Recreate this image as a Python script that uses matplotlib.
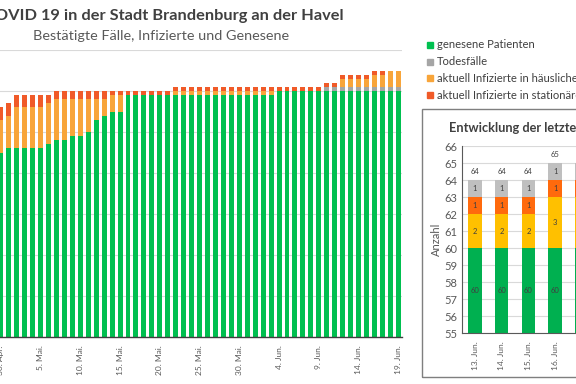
import matplotlib
matplotlib.use("Agg")
import matplotlib.pyplot as plt
import numpy as np
import pandas as pd
from matplotlib.patches import Rectangle

plt.rcParams['font.family'] = ['Lato', 'DejaVu Sans']

# daily values 30 Apr - 19 Jun
days = pd.date_range('2020-04-30', '2020-06-19')
genesen = [45, 46, 46, 46, 46, 46, 47, 48, 48, 49, 49, 50, 53, 54, 55, 55,
           59, 59, 59, 59, 59, 59,
           59, 59, 59, 59, 59, 59, 59, 59, 59, 59, 59, 59, 59,
           60, 60, 60, 60, 60, 60, 60, 60, 60, 60, 60, 60, 60, 60, 60, 60]
tote = [0, 0, 0, 0, 0, 0, 0, 0, 0, 0, 0, 0, 0, 0, 0, 0,
        0, 0, 0, 0, 0, 0,
        0, 0, 0, 0, 0, 0, 0, 0, 0, 0, 0, 0, 0,
        0, 0, 0, 0, 0, 0, 1, 1, 1, 1, 1, 1, 1, 1, 1, 1]
haeuslich = [8, 8, 10, 10, 10, 10, 10, 10, 10, 9, 9, 8, 5, 4, 4, 4,
             0, 0, 0, 0, 0, 0,
             1, 1, 1, 1, 1, 1, 1, 1, 1, 1, 1, 1, 1,
             0, 0, 0, 0, 0, 0, 0, 0, 2, 2, 2, 2, 3, 3, 4, 4]
stationaer = [3, 3, 3, 3, 3, 3, 2, 2, 2, 2, 2, 2, 2, 2, 1, 1,
              1, 1, 1, 1, 1, 1,
              1, 1, 1, 1, 1, 1, 1, 1, 1, 1, 1, 1, 1,
              1, 1, 1, 1, 1, 1, 1, 1, 1, 1, 1, 1, 1, 1, 0, 0]

# last 7 days (inset)
tage7 = ['13. Jun.', '14. Jun.', '15. Jun.', '16. Jun.', '17. Jun.', '18. Jun.', '19. Jun.']
gen7 = [60, 60, 60, 60, 60, 60, 60]
haus7 = [2, 2, 2, 3, 3, 4, 4]
stat7 = [1, 1, 1, 1, 1, 0, 0]
tot7 = [1, 1, 1, 1, 1, 1, 1]

W, H = 576, 384


def fx(px):
    return px / W


def fy(py):
    return 1 - py / H


fig = plt.figure(figsize=(W / 100, H / 100), dpi=100)

# ---- main chart ----
ax = fig.add_axes([fx(0), fy(337), fx(401.7), fy(50) - fy(337)])
x = np.arange(len(days))
g = np.array(genesen)
t = np.array(tote)
h = np.array(haeuslich)
s = np.array(stationaer)
bw = 0.62
ax.bar(x, g, bw, color='#00C050', zorder=2)
ax.bar(x, t, bw, bottom=g, color='#A5A5A5', zorder=2)
ax.bar(x, h, bw, bottom=g + t, color='#F8A53A', zorder=2)
ax.bar(x, s, bw, bottom=g + t + h, color='#F05A28', zorder=2)
ax.set_xlim(-0.1, 50.43)
ax.set_ylim(0, 70)
ax.set_yticks(range(0, 71, 10))
ax.yaxis.grid(True, color='#D9D9D9', lw=0.8, zorder=0)
ax.tick_params(axis='y', left=False, labelleft=False)
ax.tick_params(axis='x', length=0, pad=6, labelsize=6, labelcolor='#595959')
ticks = x[::5]
ax.set_xticks(ticks)
ax.set_xticklabels([f"{d.day}. {'Apr.' if d.month == 4 else 'Mai.' if d.month == 5 else 'Jun.'}"
                    for d in days[::5]], rotation=90)
for sp in ['left', 'right', 'top']:
    ax.spines[sp].set_visible(False)
ax.spines['bottom'].set_color('#404040')
ax.spines['bottom'].set_linewidth(1)

fig.text(fx(164), fy(16), 'COVID 19 in der Stadt Brandenburg an der Havel', ha='center', va='center',
         fontsize=11.8, fontweight='bold', color='#404040')
fig.text(fx(161), fy(36), 'Bestätigte Fälle, Infizierte und Genesene', ha='center', va='center',
         fontsize=10.4, color='#595959')

# ---- legend ----
leg_items = [('genesene Patienten', '#00C050'),
             ('Todesfälle', '#A5A5A5'),
             ('aktuell Infizierte in häuslicher Quarantäne', '#F8A53A'),
             ('aktuell Infizierte in stationärer Behandlung', '#F05A28')]
for i, (lab, col) in enumerate(leg_items):
    yy = 45 + i * 16.7
    fig.patches.append(Rectangle((fx(427), fy(yy + 3)), fx(6), fy(yy - 3) - fy(yy + 3),
                                 transform=fig.transFigure, color=col))
    fig.text(fx(437), fy(yy), lab, va='center', ha='left', fontsize=8.1, color='#404040')

# ---- inset box ----
fig.patches.append(Rectangle((fx(421.7), fy(377)), fx(200), fy(109) - fy(377),
                             transform=fig.transFigure, fill=False, edgecolor='#7F7F7F', lw=1))
fig.text(fx(449), fy(128), 'Entwicklung der letzten 7 Tage', ha='left', va='center',
         fontsize=9.2, fontweight='bold', color='#404040')

ax2 = fig.add_axes([fx(461.7), fy(333.3), fx(26.7 * 7), fy(146.3) - fy(333.3)])
x2 = np.arange(len(tage7))
g7 = np.array(gen7)
h7 = np.array(haus7)
s7 = np.array(stat7)
t7 = np.array(tot7)
layers = [(g7, '#00B050'), (h7, '#FFC000'), (s7, '#FF6A0D'), (t7, '#BFBFBF')]
bottom = np.zeros(len(x2))
for vals, col in layers:
    ax2.bar(x2, vals, 0.5, bottom=bottom, color=col, zorder=2)
    for xi, v, b in zip(x2, vals, bottom):
        if v > 0:
            yc = b + v / 2 if b > 0 else 57.5
            ax2.text(xi, yc, str(v), ha='center', va='center', fontsize=5.5, color='#404040', zorder=3)
    bottom = bottom + vals
for xi, tot in zip(x2, bottom):
    ax2.text(xi, tot + 0.5, str(int(tot)), ha='center', va='center', fontsize=5.5, color='#404040')
ax2.set_xlim(-0.5, 6.5)
ax2.set_ylim(55, 66)
ax2.set_yticks(range(55, 67))
ax2.yaxis.grid(True, color='#D9D9D9', lw=0.8, zorder=0)
ax2.set_xticks(x2)
ax2.set_xticklabels(tage7, rotation=90)
ax2.tick_params(axis='x', length=0, pad=6, labelsize=6, labelcolor='#595959')
ax2.tick_params(axis='y', length=0, pad=3, labelsize=8, labelcolor='#595959')
for sp in ['right', 'top']:
    ax2.spines[sp].set_visible(False)
ax2.spines['left'].set_color('#595959')
ax2.spines['bottom'].set_color('#595959')
ax2.set_ylabel('Anzahl', fontsize=8, color='#595959', labelpad=2)

fig.savefig('out.png', dpi=100)
